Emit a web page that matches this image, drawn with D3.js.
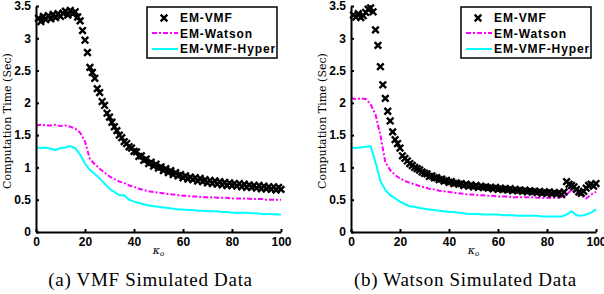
<!DOCTYPE html>
<html>
<head>
<meta charset="utf-8">
<script src="https://cdn.jsdelivr.net/npm/d3@7"></script>
<style>
  body { margin: 0; background: #fff; }
  .tick text { font-family: 'Liberation Sans', Arial, sans-serif; font-weight: bold; font-size: 12px; fill: #000; }
  .legend-text { font-family: 'Liberation Sans', Arial, sans-serif; font-weight: bold; font-size: 12px; letter-spacing: 0.9px; }
  .axis-title { font-family: 'DejaVu Serif', serif; font-size: 11px; }
  .caption { font-family: 'Liberation Serif', 'Times New Roman', serif; font-size: 19px; letter-spacing: 0.7px; }
</style>
</head>
<body>
<div id="chart"></div>
<script>
const width = 604;
const height = 294;

// kappa_0 values: markers at every integer, lines every 2
const kappaMarkers = d3.range(1, 101);
const kappaLines = d3.range(0, 101, 2);
const xTicks = [0, 20, 40, 60, 80, 100];
const yTicks = [0, 0.5, 1, 1.5, 2, 2.5, 3, 3.5];
const seriesNames = ['EM-VMF', 'EM-Watson', 'EM-VMF-Hyper'];

// (a) VMF simulated data
const vmfEmVmf = [
  3.31, 3.26, 3.34, 3.29, 3.35, 3.30, 3.37, 3.32, 3.38, 3.34,
  3.39, 3.42, 3.36, 3.43, 3.38, 3.41, 3.33, 3.27, 3.12, 2.97,
  2.78, 2.55, 2.47, 2.38, 2.22, 2.16, 2.02, 1.96, 1.84, 1.78,
  1.70, 1.63, 1.57, 1.50, 1.46, 1.40, 1.37, 1.32, 1.30, 1.25,
  1.24, 1.17, 1.18, 1.11, 1.13, 1.06, 1.08, 1.02, 1.05, 0.99,
  1.01, 0.95, 0.98, 0.92, 0.95, 0.89, 0.92, 0.87, 0.89, 0.84,
  0.87, 0.82, 0.85, 0.81, 0.84, 0.79, 0.83, 0.78, 0.81, 0.76,
  0.80, 0.75, 0.79, 0.74, 0.78, 0.73, 0.77, 0.72, 0.76, 0.72,
  0.75, 0.71, 0.75, 0.70, 0.74, 0.69, 0.73, 0.69, 0.72, 0.68,
  0.72, 0.67, 0.71, 0.67, 0.70, 0.66, 0.70, 0.65, 0.69, 0.66
];
const vmfEmWatson = [
  1.65, 1.66, 1.65, 1.65, 1.66, 1.64, 1.65, 1.63, 1.60, 1.54,
  1.40, 1.13, 1.05, 0.98, 0.92, 0.86, 0.82, 0.78, 0.76, 0.72,
  0.70, 0.67, 0.65, 0.63, 0.62, 0.61, 0.60, 0.59, 0.58, 0.57,
  0.56, 0.56, 0.55, 0.55, 0.54, 0.54, 0.54, 0.53, 0.53, 0.53,
  0.52, 0.52, 0.52, 0.52, 0.51, 0.51, 0.51, 0.50, 0.50, 0.50,
  0.50
];
const vmfEmVmfHyper = [
  1.31, 1.30, 1.31, 1.29, 1.27, 1.30, 1.31, 1.33, 1.30, 1.20,
  1.06, 0.96, 0.90, 0.83, 0.75, 0.67, 0.62, 0.57, 0.57, 0.50,
  0.47, 0.45, 0.43, 0.41, 0.40, 0.39, 0.38, 0.37, 0.36, 0.35,
  0.35, 0.34, 0.34, 0.33, 0.33, 0.32, 0.32, 0.32, 0.31, 0.31,
  0.30, 0.30, 0.30, 0.30, 0.29, 0.29, 0.28, 0.28, 0.28, 0.27,
  0.27
];

// (b) Watson simulated data
const watsonEmVmf = [
  3.36, 3.33, 3.38, 3.32, 3.35, 3.40, 3.45, 3.47, 3.41, 3.13,
  2.89, 2.56, 2.28, 2.07, 1.87, 1.72, 1.55, 1.43, 1.37, 1.30,
  1.18, 1.14, 1.10, 1.06, 1.03, 1.00, 0.98, 0.96, 0.93, 0.91,
  0.90, 0.86, 0.87, 0.84, 0.84, 0.81, 0.82, 0.79, 0.80, 0.77,
  0.78, 0.75, 0.76, 0.74, 0.75, 0.72, 0.74, 0.71, 0.73, 0.70,
  0.72, 0.69, 0.71, 0.69, 0.70, 0.68, 0.69, 0.67, 0.69, 0.66,
  0.68, 0.66, 0.67, 0.65, 0.67, 0.64, 0.66, 0.64, 0.65, 0.63,
  0.65, 0.62, 0.64, 0.62, 0.63, 0.61, 0.63, 0.60, 0.62, 0.60,
  0.62, 0.59, 0.61, 0.59, 0.61, 0.58, 0.62, 0.78, 0.74, 0.72,
  0.70, 0.66, 0.62, 0.60, 0.63, 0.68, 0.72, 0.74, 0.71, 0.75
];
const watsonEmWatson = [
  2.07, 2.06, 2.07, 2.06, 1.98, 1.82, 1.50, 1.08, 0.96, 0.88,
  0.83, 0.79, 0.76, 0.74, 0.71, 0.69, 0.67, 0.66, 0.64, 0.63,
  0.62, 0.61, 0.60, 0.59, 0.58, 0.58, 0.57, 0.57, 0.56, 0.56,
  0.55, 0.55, 0.55, 0.54, 0.54, 0.54, 0.54, 0.54, 0.53, 0.53,
  0.53, 0.53, 0.53, 0.54, 0.58, 0.65, 0.60, 0.56, 0.52, 0.58,
  0.62
];
const watsonEmVmfHyper = [
  1.31, 1.30, 1.31, 1.32, 1.33, 1.08, 0.79, 0.65, 0.57, 0.52,
  0.47, 0.43, 0.40, 0.39, 0.37, 0.36, 0.35, 0.34, 0.33, 0.32,
  0.31, 0.31, 0.30, 0.29, 0.28, 0.28, 0.28, 0.27, 0.27, 0.27,
  0.27, 0.26, 0.26, 0.26, 0.25, 0.25, 0.25, 0.25, 0.25, 0.24,
  0.24, 0.24, 0.24, 0.24, 0.27, 0.32, 0.26, 0.25, 0.27, 0.30,
  0.35
];

const svg = d3.select('#chart')
  .append('svg')
  .attr('width', width)
  .attr('height', height);

const markerPath = 'M-3.3,-3.3L3.3,3.3M-3.3,3.3L3.3,-3.3';

function drawPanel(panel) {
  const x = d3.scaleLinear().domain([0, 100]).range([panel.left, panel.right]);
  const y = d3.scaleLinear().domain([0, 3.5]).range([232, 6]);

  // Lines
  const line = d3.line()
    .x((d, i) => x(kappaLines[i]))
    .y(d => y(d));

  svg.append('path')
    .datum(panel.hyper)
    .attr('fill', 'none')
    .attr('stroke', '#00ffff')
    .attr('stroke-width', 2)
    .attr('d', line);

  svg.append('path')
    .datum(panel.watson)
    .attr('fill', 'none')
    .attr('stroke', '#ff00ff')
    .attr('stroke-width', 2)
    .attr('stroke-dasharray', '5,2,2,2')
    .attr('d', line);

  // Markers
  svg.append('g')
    .selectAll('path')
    .data(panel.vmf)
    .enter()
    .append('path')
    .attr('transform', (d, i) => `translate(${x(kappaMarkers[i])},${y(d)})`)
    .attr('d', markerPath)
    .attr('stroke', '#000')
    .attr('stroke-width', 2.4)
    .attr('fill', 'none');

  // X axis
  const xAxis = svg.append('g')
    .attr('transform', 'translate(0,232)')
    .call(d3.axisBottom(x).tickValues(xTicks).tickSize(-3).tickSizeOuter(0).tickPadding(5));

  // Y axis
  const yAxis = svg.append('g')
    .attr('transform', `translate(${panel.left},0)`)
    .call(d3.axisLeft(y).tickValues(yTicks).tickFormat(d3.format('')).tickSize(-3).tickSizeOuter(0).tickPadding(5));

  [xAxis, yAxis].forEach(a => {
    a.select('.domain').attr('stroke-width', 2);
    a.selectAll('.tick line').attr('stroke-width', 2);
  });

  // Y axis title
  svg.append('text')
    .attr('class', 'axis-title')
    .attr('transform', `translate(${panel.left - 25},121) rotate(-90)`)
    .attr('text-anchor', 'middle')
    .text('Computation Time (Sec)');

  // X axis title (kappa_0)
  const xt = svg.append('text')
    .attr('class', 'axis-title')
    .attr('x', (panel.left + panel.right) / 2)
    .attr('y', 254)
    .attr('text-anchor', 'middle')
    .style('font-style', 'italic');
  xt.append('tspan').text('κ');
  xt.append('tspan').attr('font-size', '7px').attr('dy', 2).text('o');

  // Caption
  svg.append('text')
    .attr('class', 'caption')
    .attr('x', (panel.left + panel.right) / 2 - 8)
    .attr('y', 286)
    .attr('text-anchor', 'middle')
    .text(panel.caption);

  // Legend
  const lg = svg.append('g').attr('transform', `translate(${panel.legendX},0)`);
  lg.append('rect')
    .attr('x', 0).attr('y', 7)
    .attr('width', 130).attr('height', 51)
    .attr('fill', '#fff')
    .attr('stroke', '#000')
    .attr('stroke-width', 1.5);
  lg.append('path')
    .attr('transform', 'translate(17,18)')
    .attr('d', markerPath)
    .attr('stroke', '#000')
    .attr('stroke-width', 2.4);
  lg.append('line')
    .attr('x1', 5).attr('x2', 31).attr('y1', 33).attr('y2', 33)
    .attr('stroke', '#ff00ff').attr('stroke-width', 2)
    .attr('stroke-dasharray', '5,2,2,2');
  lg.append('line')
    .attr('x1', 5).attr('x2', 31).attr('y1', 49).attr('y2', 49)
    .attr('stroke', '#00ffff').attr('stroke-width', 2);
  lg.selectAll('.legend-text')
    .data(seriesNames)
    .enter()
    .append('text')
    .attr('class', 'legend-text')
    .attr('x', 33)
    .attr('y', (d, i) => 22 + i * 15.5)
    .text(d => d);
}

drawPanel({
  left: 36, right: 281, legendX: 147,
  vmf: vmfEmVmf, watson: vmfEmWatson, hyper: vmfEmVmfHyper,
  caption: '(a) VMF Simulated Data'
});

drawPanel({
  left: 351, right: 596, legendX: 461,
  vmf: watsonEmVmf, watson: watsonEmWatson, hyper: watsonEmVmfHyper,
  caption: '(b) Watson Simulated Data'
});
</script>
</body>
</html>
